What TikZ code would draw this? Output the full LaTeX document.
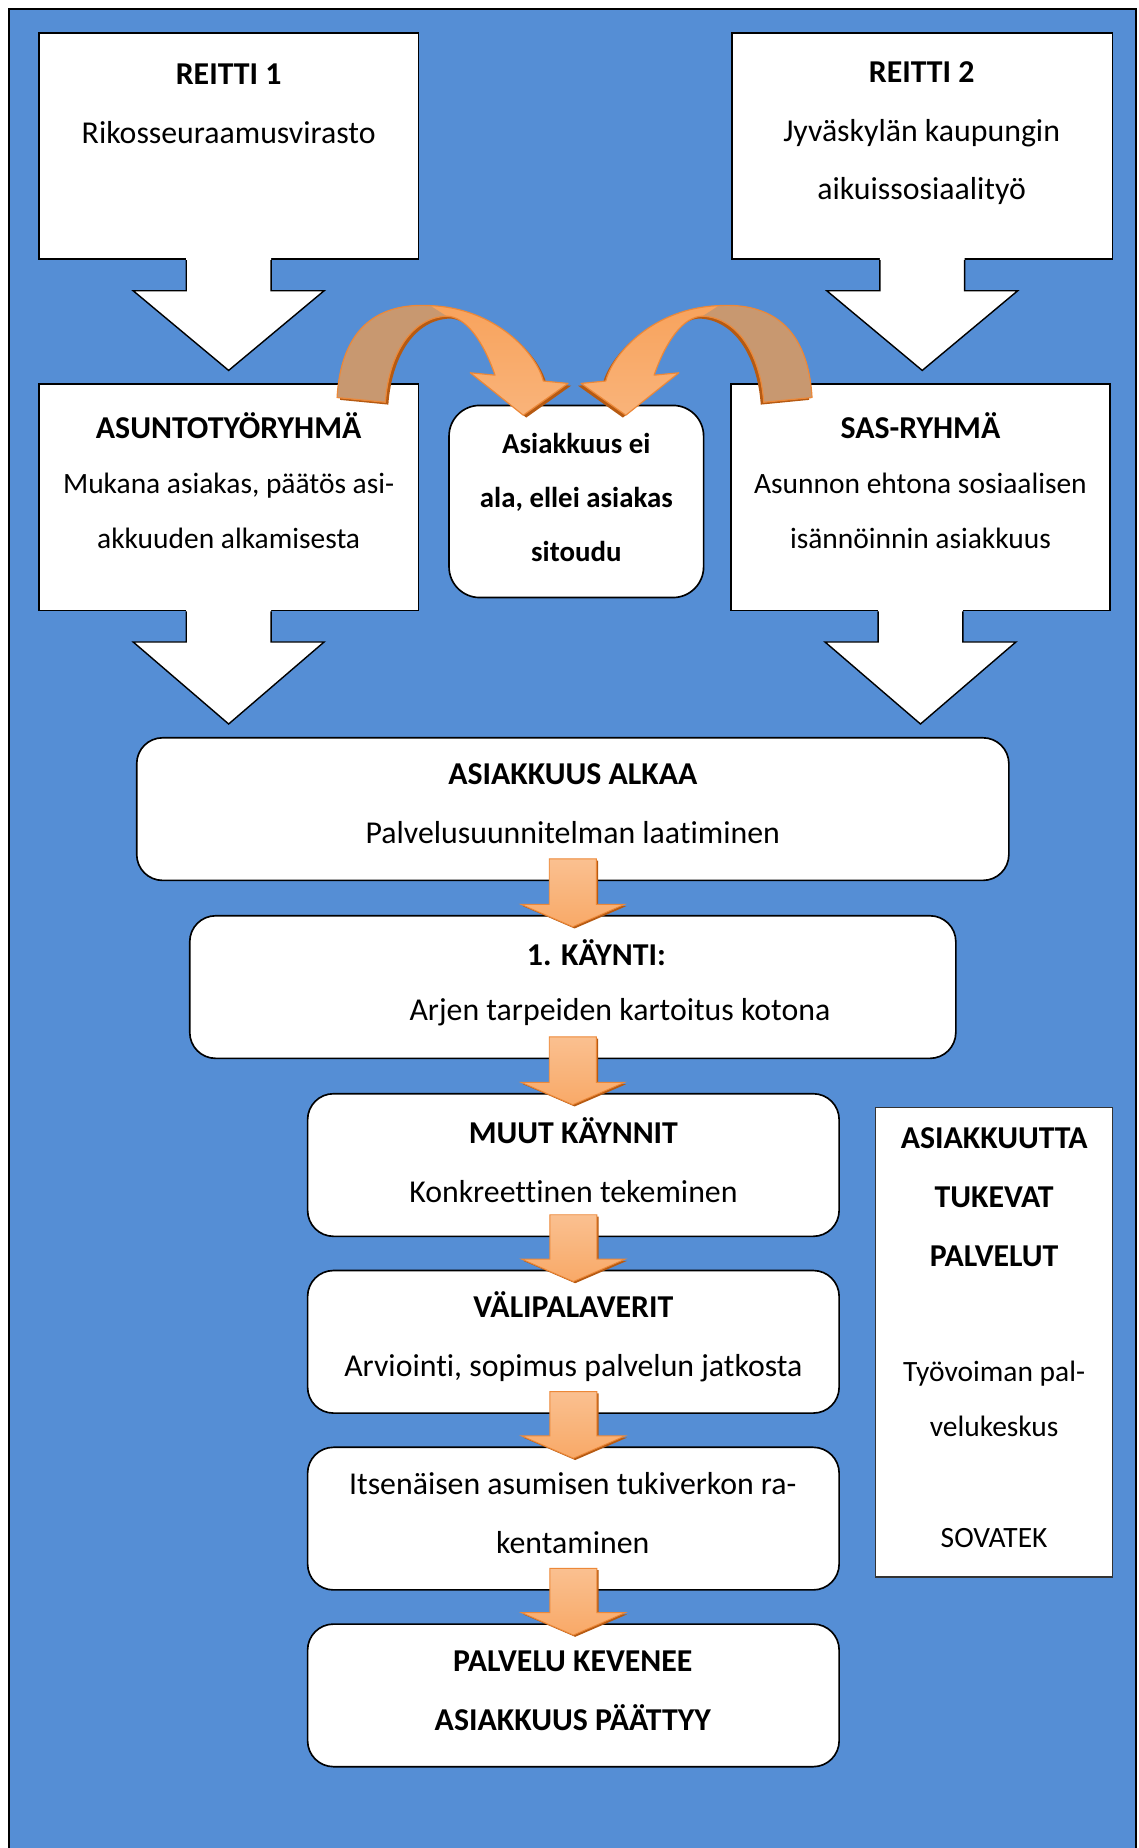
\documentclass[tikz,border=0pt]{standalone}
\usepackage{fontspec}
\setmainfont{Carlito}[Ligatures={TeX,NoCommon}]
\usetikzlibrary{calc}

\definecolor{tausta}{RGB}{85,142,213}
\definecolor{oranssi}{RGB}{247,150,70}
\definecolor{vaalea}{RGB}{250,192,144}
\definecolor{ruskea}{RGB}{200,152,112}
\definecolor{varjo}{RGB}{182,90,18}
\definecolor{reuna}{RGB}{236,136,56}

\newcommand{\isonuoli}[2]{%
  \fill[white] let \p1=(#1.south), \p2=(#2.north) in
    (\x1-36,\y1+2) -- (\x1-36,\y1-26) -- (\x1-81,\y1-26) -- (\x1,\y2+11)
    -- (\x1+81,\y1-26) -- (\x1+36,\y1-26) -- (\x1+36,\y1+2) -- cycle;
  \draw[isoviiva] let \p1=(#1.south), \p2=(#2.north) in
    (\x1-36,\y1) -- (\x1-36,\y1-26) -- (\x1-81,\y1-26) -- (\x1,\y2+11)
    -- (\x1+81,\y1-26) -- (\x1+36,\y1-26) -- (\x1+36,\y1);}

\newcommand{\pieninuoli}[2]{%
  \fill[varjo] let \p1=(#1.south), \p2=(#2.north) in
    (\x1-18.5,\y1+17.5) -- (\x1-18.5,\y2+7.5) -- (\x1-42.5,\y2+7.5) -- (\x1+1.5,\y2-11.5)
    -- (\x1+45.5,\y2+7.5) -- (\x1+21.5,\y2+7.5) -- (\x1+21.5,\y1+17.5) -- cycle;
  \shadedraw[top color=vaalea, middle color=oranssi, bottom color=oranssi!55!vaalea, draw=reuna, line width=0.8pt]
    let \p1=(#1.south), \p2=(#2.north) in
    (\x1-20,\y1+19) -- (\x1-20,\y2+9) -- (\x1-44,\y2+9) -- (\x1,\y2-10)
    -- (\x1+44,\y2+9) -- (\x1+20,\y2+9) -- (\x1+20,\y1+19) -- cycle;}

\newcommand{\kaaripolku}{(-203,-6) .. controls (-199,-74) and (-159,-86) .. (-124,-84)
  .. controls (-69,-82) and (-34,-44) .. (-28,-20) -- (-7,-18) -- (-45,9) -- (-90,-27) -- (-69,-25)
  .. controls (-79,-54) and (-94,-75) .. (-110,-75) .. controls (-139,-74) and (-159,-44) .. (-162,-2) -- cycle}

\newcommand{\kaarinuoli}{%
  \begin{scope}[shift={(2.5,2)}]
    \fill[varjo] \kaaripolku;
  \end{scope}
  \shade[top color=oranssi!70!vaalea, middle color=oranssi, bottom color=vaalea!70!oranssi] \kaaripolku;
  \begin{scope}
    \clip (-260,-140) -- (-124,-140) -- (-124,-84) -- (-110,-75) -- (-110,40) -- (-260,40) -- cycle;
    \fill[ruskea] \kaaripolku;
  \end{scope}
  \draw[reuna, line width=1pt, line join=round] \kaaripolku;}

\begin{document}
\begin{tikzpicture}[x=1pt, y=-1pt,
    laatikko/.style={draw=black, line width=1.4pt, fill=white, inner sep=0pt},
    pyorea/.style={laatikko, rounded corners=22pt},
    teksti/.style={align=center, inner sep=0pt, font=\fontsize{27}{50}\selectfont},
    tiivis/.style={align=center, inner sep=0pt, font=\fontsize{25}{46.5}\selectfont},
    lihava/.style={align=center, inner sep=0pt, font=\bfseries\fontsize{27}{50}\selectfont},
    isoviiva/.style={black, line width=1.2pt, line join=miter}]

    \useasboundingbox (0,0) rectangle (966,1568);
    \fill[tausta] (7.5,7.5) rectangle (964,1568);
    \draw[black, line width=2pt] (7.5,1568) -- (7.5,7.5) -- (964,7.5) -- (964,1568);

    \node[laatikko, minimum width=322pt, minimum height=192pt] (reitti1) at (194,124) {};
    \node[laatikko, minimum width=323pt, minimum height=192pt] (reitti2) at (782.5,124) {};
    \node[laatikko, minimum width=322pt, minimum height=192pt] (asunto) at (194,422) {};
    \node[laatikko, minimum width=322pt, minimum height=192pt] (sas) at (781,422) {};
    \node[pyorea, rounded corners=26pt, minimum width=216pt, minimum height=163pt] (ei) at (489,425.5) {};
    \node[pyorea, minimum width=740pt, minimum height=121pt] (alkaa) at (486,686.5) {};
    \node[pyorea, minimum width=650pt, minimum height=121pt] (kaynti) at (486,837.5) {};
    \node[pyorea, minimum width=451pt, minimum height=121pt] (muut) at (486.5,988.5) {};
    \node[pyorea, minimum width=451pt, minimum height=121pt] (vali) at (486.5,1138.5) {};
    \node[pyorea, minimum width=451pt, minimum height=121pt] (tukiverkko) at (486.5,1288.5) {};
    \node[pyorea, minimum width=451pt, minimum height=121pt] (paattyy) at (486.5,1438.5) {};
    \node[laatikko, draw=black!80, line width=1pt, minimum width=201pt, minimum height=398pt] (tuki) at (843.5,1139) {};

    \node[teksti] (reitti1t) at (194,88) {\textbf{REITTI 1}\\Rikosseuraamusvirasto};
    \node[teksti] (reitti2t) at (782,113) {\textbf{REITTI 2}\\Jyväskylän kaupungin\\aikuissosiaalityö};
    \node[tiivis] (asuntot) at (194,408) {\textbf{\fontsize{27}{46.5}\selectfont ASUNTOTYÖRYHMÄ}\\Mukana asiakas, päätös asi-\\akkuuden alkamisesta};
    \node[tiivis] (sast) at (781,408) {\textbf{\fontsize{27}{46.5}\selectfont SAS-RYHMÄ}\\Asunnon ehtona sosiaalisen\\isännöinnin asiakkuus};
    \node[lihava, font=\bfseries\fontsize{24.5}{45.5}\selectfont] (eit) at (489,422) {Asiakkuus ei\\ala, ellei asiakas\\sitoudu};
    \node[teksti] (alkaat) at (486,682) {\textbf{ASIAKKUUS ALKAA}\\Palvelusuunnitelman laatiminen};
    \node[lihava] (kayntit) at (506,808) {1. KÄYNTI:};
    \node[teksti] (kartoitus) at (526,859) {Arjen tarpeiden kartoitus kotona};
    \node[teksti] (muutt) at (486.5,984) {\textbf{MUUT KÄYNNIT}\\Konkreettinen tekeminen};
    \node[teksti] (valit) at (486.5,1134.5) {\textbf{VÄLIPALAVERIT}\\Arviointi, sopimus palvelun jatkosta};
    \node[teksti] (tukiverkkot) at (486,1284) {Itsenäisen asumisen tukiverkon ra-\\kentaminen};
    \node[lihava] (paattyyt) at (486,1434.5) {PALVELU KEVENEE\\ASIAKKUUS PÄÄTTYY};
    \node[lihava] (tukit) at (843.5,1016) {ASIAKKUUTTA\\TUKEVAT\\PALVELUT};
    \node[tiivis, font=\fontsize{25}{46}\selectfont] (tyovoima) at (843.5,1187) {Työvoiman pal-\\velukeskus};
    \node[tiivis] (sovatek) at (843.5,1305) {SOVATEK};

    \isonuoli{reitti1}{asunto}
    \isonuoli{reitti2}{sas}
    \isonuoli{asunto}{alkaa}
    \isonuoli{sas}{alkaa}

    \begin{scope}[shift={(ei.north)}]
        \kaarinuoli
    \end{scope}
    \begin{scope}[shift={(ei.north)}, xshift=-3pt, xscale=-1]
        \kaarinuoli
    \end{scope}

    \foreach \a/\b in {alkaa/kaynti, kaynti/muut, muut/vali, vali/tukiverkko, tukiverkko/paattyy}
        {\pieninuoli{\a}{\b}}
\end{tikzpicture}
\end{document}
